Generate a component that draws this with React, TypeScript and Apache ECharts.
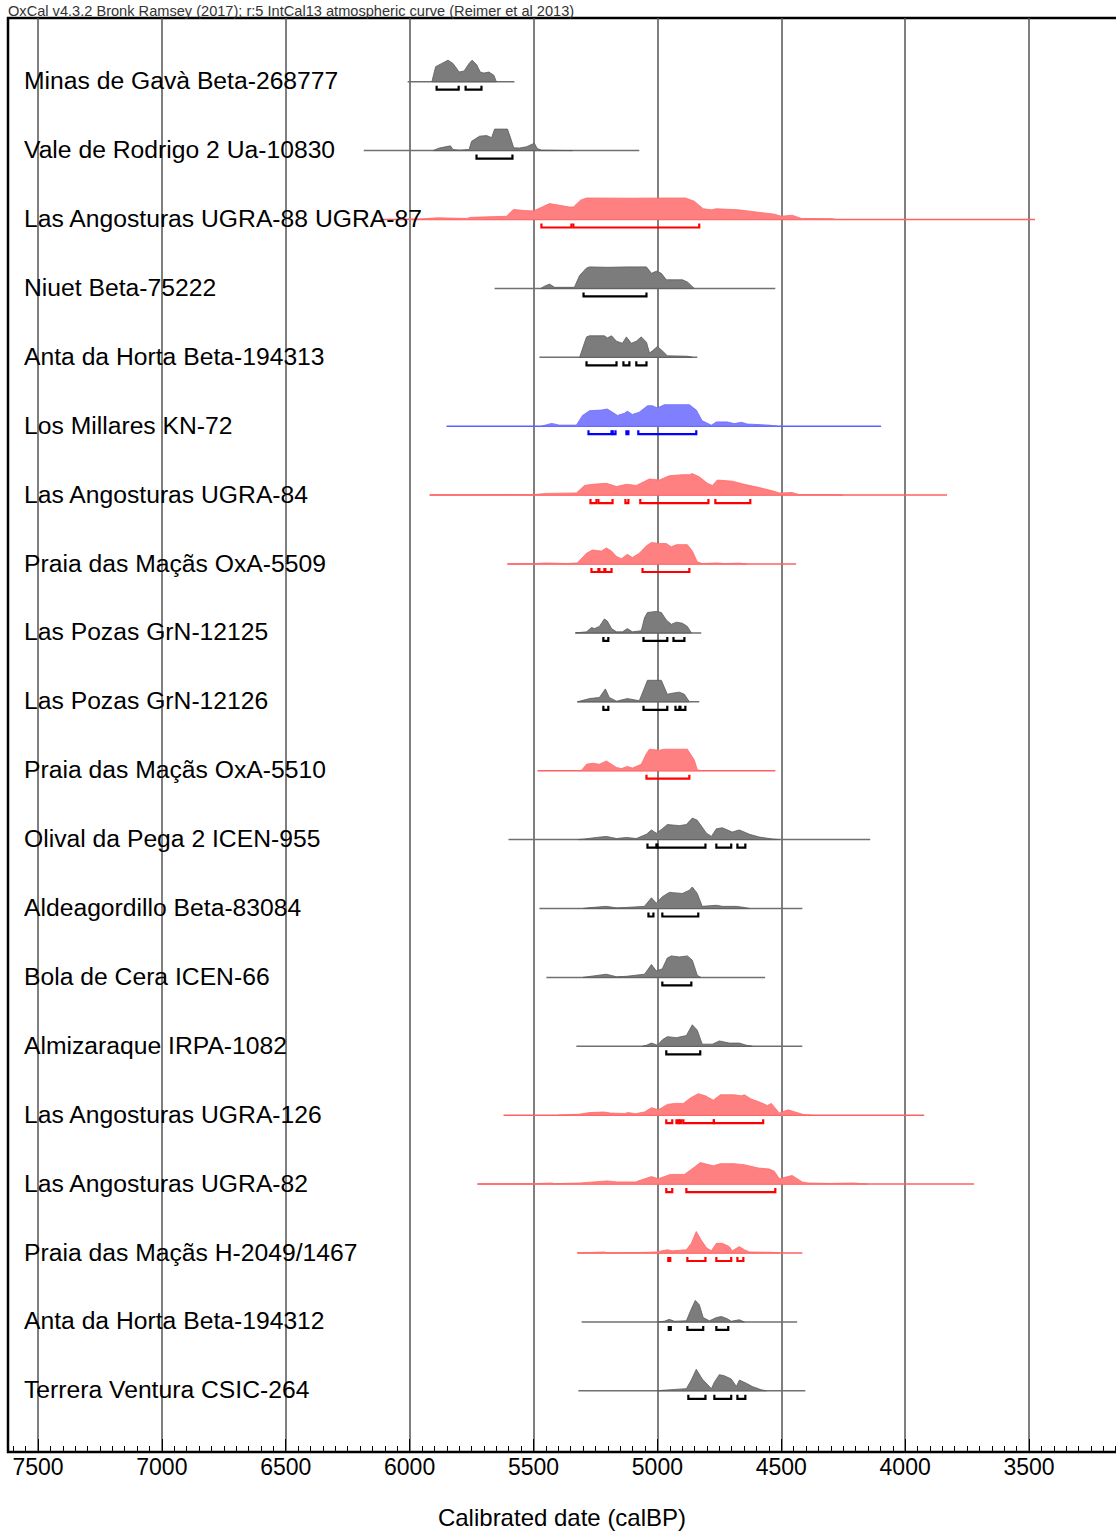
import React, { useEffect, useRef } from 'react';
import * as echarts from 'echarts';

const FONT = '"Liberation Sans", Arial, Helvetica, sans-serif';

const TITLE = 'OxCal v4.3.2 Bronk Ramsey (2017); r:5 IntCal13 atmospheric curve (Reimer et al 2013)';
const AXIS_NAME = 'Calibrated date (calBP)';
const X_LABELS = [7500, 7000, 6500, 6000, 5500, 5000, 4500, 4000, 3500];

const LABELS = [
  'Minas de Gavà Beta-268777',
  'Vale de Rodrigo 2 Ua-10830',
  'Las Angosturas UGRA-88 UGRA-87',
  'Niuet Beta-75222',
  'Anta da Horta Beta-194313',
  'Los Millares KN-72',
  'Las Angosturas UGRA-84',
  'Praia das Maçãs OxA-5509',
  'Las Pozas GrN-12125',
  'Las Pozas GrN-12126',
  'Praia das Maçãs OxA-5510',
  'Olival da Pega 2 ICEN-955',
  'Aldeagordillo Beta-83084',
  'Bola de Cera ICEN-66',
  'Almizaraque IRPA-1082',
  'Las Angosturas UGRA-126',
  'Las Angosturas UGRA-82',
  'Praia das Maçãs H-2049/1467',
  'Anta da Horta Beta-194312',
  'Terrera Ventura CSIC-264',
];

const KINDS = ['g', 'g', 'r', 'g', 'g', 'b', 'r', 'r', 'g', 'g', 'r', 'g', 'g', 'g', 'g', 'r', 'r', 'r', 'g', 'g'];

// extent of the thin line of each likelihood (calBP)
const LINE_RANGES = [
  [6008, 5577], [6185, 5073], [6120, 3476], [5657, 4524], [5476, 4839],
  [5851, 4097], [5919, 3831], [5605, 4440], [5331, 4823], [5323, 4831],
  [5484, 4524], [5601, 4141], [5476, 4415], [5448, 4565], [5327, 4415],
  [5621, 3923], [5726, 3722], [5323, 4415], [5306, 4436], [5319, 4403],
];

// probability curves: [calBP, relative height]
const DENSITIES = [
  [[5910,0],[5895,0.7],[5870,0.85],[5845,1.0],[5825,0.85],[5800,0.45],[5780,0.5],[5760,0.85],[5748,1.0],[5730,0.8],[5715,0.45],[5700,0.4],[5680,0.45],[5660,0.3],[5650,0]],
  [[5905,0],[5880,0.12],[5845,0.2],[5835,0.22],[5825,0.05],[5800,0.02],[5760,0.05],[5750,0.43],[5718,0.67],[5689,0.7],[5669,0.6],[5657,1.0],[5605,1.0],[5590,0.5],[5580,0.13],[5556,0.12],[5528,0.18],[5505,0.3],[5496,0.33],[5485,0.1],[5468,0.02],[5343,0]],
  [[6080,0],[5950,0.03],[5887,0.08],[5770,0.05],[5754,0.1],[5609,0.15],[5581,0.47],[5540,0.42],[5500,0.4],[5435,0.74],[5355,0.58],[5339,0.58],[5310,0.9],[5286,1.0],[5100,0.99],[4960,1.0],[4887,1.0],[4851,0.85],[4815,0.5],[4782,0.45],[4762,0.5],[4673,0.45],[4601,0.35],[4528,0.25],[4500,0.15],[4456,0.2],[4419,0.05],[4294,0.04],[4278,0]],
  [[5470,0],[5456,0.1],[5435,0.2],[5415,0.05],[5335,0.05],[5314,0.6],[5286,0.95],[5274,1.0],[5200,0.98],[5120,1.0],[5044,1.0],[5024,0.7],[5004,0.8],[4984,0.7],[4964,0.4],[4940,0.4],[4899,0.4],[4879,0.3],[4851,0]],
  [[5314,0],[5286,0.95],[5274,1.0],[5214,1.0],[5202,0.9],[5185,1.0],[5165,0.75],[5141,0.65],[5125,0.95],[5105,0.65],[5085,0.75],[5065,0.95],[5044,0.7],[5032,0.2],[5020,0.3],[5000,0.5],[4980,0.3],[4960,0.07],[4879,0.05],[4859,0]],
  [[5468,0],[5427,0.13],[5395,0.05],[5327,0.05],[5302,0.5],[5274,0.72],[5226,0.75],[5202,0.8],[5161,0.5],[5133,0.6],[5121,0.7],[5101,0.55],[5073,0.65],[5040,0.95],[5020,0.95],[5000,0.85],[4972,1.0],[4871,1.0],[4843,0.75],[4819,0.25],[4782,0.05],[4762,0.2],[4718,0.2],[4690,0.12],[4661,0.18],[4637,0.1],[4548,0.05],[4516,0]],
  [[5919,0],[5700,0.02],[5585,0.03],[5504,0.02],[5448,0.08],[5327,0.1],[5294,0.45],[5262,0.5],[5206,0.55],[5165,0.4],[5125,0.5],[5085,0.45],[5032,0.75],[4992,0.7],[4952,0.9],[4899,0.95],[4871,0.95],[4859,1.0],[4831,0.85],[4798,0.55],[4778,0.45],[4758,0.7],[4698,0.65],[4649,0.5],[4589,0.35],[4536,0.2],[4508,0.1],[4456,0.12],[4427,0.02],[4294,0.02],[4250,0]],
  [[5605,0],[5496,0.02],[5448,0.05],[5367,0.02],[5323,0.05],[5286,0.5],[5262,0.65],[5226,0.6],[5206,0.75],[5185,0.6],[5165,0.35],[5145,0.25],[5121,0.45],[5101,0.3],[5073,0.5],[5044,0.85],[5024,1.0],[4992,0.95],[4964,0.95],[4944,0.8],[4923,0.9],[4879,0.9],[4859,0.6],[4839,0.1],[4819,0.02],[4758,0.05],[4730,0.02],[4669,0.04],[4641,0]],
  [[5331,0],[5286,0.05],[5266,0.25],[5254,0.2],[5234,0.3],[5214,0.65],[5202,0.55],[5185,0.2],[5165,0.05],[5141,0.05],[5121,0.2],[5101,0.05],[5065,0.1],[5052,0.7],[5040,0.95],[5004,1.0],[4984,0.95],[4964,0.6],[4944,0.4],[4923,0.5],[4899,0.45],[4879,0.3],[4863,0]],
  [[5323,0],[5274,0.15],[5234,0.2],[5210,0.6],[5194,0.2],[5165,0.03],[5121,0.15],[5073,0.05],[5052,0.65],[5040,1.0],[4984,1.0],[4960,0.35],[4940,0.4],[4911,0.45],[4891,0.35],[4871,0]],
  [[5320,0],[5306,0.02],[5286,0.3],[5262,0.35],[5234,0.3],[5206,0.45],[5185,0.3],[5165,0.15],[5145,0.1],[5121,0.2],[5101,0.12],[5065,0.3],[5044,0.8],[5032,1.0],[4992,0.95],[4972,1.0],[4879,1.0],[4851,0.5],[4839,0.05],[4825,0]],
  [[5320,0],[5294,0.03],[5246,0.1],[5206,0.15],[5165,0.05],[5125,0.1],[5085,0.05],[5044,0.25],[5024,0.45],[5004,0.3],[4980,0.5],[4960,0.7],[4911,0.65],[4883,0.7],[4859,1.0],[4839,0.9],[4802,0.3],[4782,0.15],[4762,0.5],[4738,0.55],[4698,0.35],[4669,0.45],[4629,0.25],[4589,0.12],[4536,0.03],[4508,0]],
  [[5300,0],[5282,0.03],[5206,0.1],[5165,0.03],[5125,0.05],[5052,0.1],[5024,0.5],[5004,0.25],[4980,0.55],[4952,0.75],[4899,0.7],[4871,0.85],[4859,1.0],[4839,0.7],[4819,0.1],[4762,0.15],[4738,0.1],[4681,0.1],[4649,0.05],[4629,0]],
  [[5300,0],[5282,0.03],[5206,0.15],[5165,0.03],[5125,0.05],[5052,0.15],[5024,0.6],[5004,0.3],[4980,0.4],[4960,0.9],[4944,1.0],[4911,0.95],[4879,1.0],[4859,0.8],[4839,0.1],[4825,0]],
  [[5060,0],[5044,0.05],[5024,0.15],[5000,0.05],[4980,0.3],[4960,0.45],[4923,0.4],[4883,0.5],[4859,1.0],[4839,0.75],[4819,0.1],[4778,0.1],[4750,0.25],[4710,0.15],[4669,0.15],[4641,0.05],[4617,0]],
  [[5400,0],[5314,0.05],[5274,0.12],[5218,0.15],[5189,0.1],[5133,0.08],[5117,0.12],[5089,0.07],[5052,0.15],[5024,0.35],[4996,0.25],[4960,0.5],[4931,0.55],[4895,0.55],[4867,0.8],[4835,1.0],[4806,0.9],[4774,0.7],[4746,0.95],[4690,0.95],[4661,0.9],[4649,0.95],[4621,0.75],[4585,0.6],[4556,0.45],[4540,0.55],[4508,0.1],[4472,0.25],[4444,0.15],[4407,0.02],[4379,0]],
  [[5726,0],[5500,0.02],[5427,0.05],[5415,0.02],[5314,0.05],[5258,0.1],[5202,0.15],[5161,0.1],[5089,0.1],[5024,0.35],[4996,0.25],[4948,0.45],[4891,0.45],[4855,0.75],[4827,1.0],[4774,0.85],[4746,0.95],[4690,0.95],[4649,0.9],[4593,0.75],[4548,0.7],[4528,0.6],[4508,0.25],[4456,0.4],[4415,0.1],[4391,0.05],[4306,0.03],[4210,0.05],[4153,0]],
  [[5323,0],[5214,0.05],[5202,0],[5044,0.03],[5004,0.05],[4960,0.15],[4940,0.1],[4883,0.15],[4863,0.45],[4843,1.0],[4823,0.6],[4802,0.25],[4782,0.1],[4762,0.45],[4738,0.45],[4710,0.3],[4698,0.1],[4669,0.3],[4649,0.15],[4629,0.05],[4536,0.03],[4508,0]],
  [[5000,0],[4972,0.03],[4952,0.12],[4931,0.03],[4883,0.05],[4863,0.6],[4847,1.0],[4831,0.8],[4815,0.2],[4790,0.05],[4762,0.2],[4742,0.25],[4718,0.15],[4702,0.03],[4669,0.1],[4649,0]],
  [[5000,0],[4972,0.03],[4883,0.1],[4863,0.5],[4843,1.0],[4819,0.55],[4782,0.1],[4770,0.4],[4750,0.75],[4730,0.7],[4702,0.55],[4681,0.2],[4669,0.5],[4641,0.35],[4617,0.2],[4581,0.05],[4560,0]],
];

// highest posterior density ranges (calBP)
const HPD = [
  [[5891,5802],[5774,5710]],
  [[5730,5585]],
  [[5468,5347],[5339,4831]],
  [[5298,5044]],
  [[5286,5165],[5137,5113],[5085,5044]],
  [[5278,5185],[5180,5169],[5125,5117],[5077,4843]],
  [[5270,5246],[5238,5181],[5129,5117],[5069,4794],[4766,4625]],
  [[5266,5238],[5234,5214],[5210,5185],[5060,4871]],
  [[5218,5198],[5056,4960],[4935,4891]],
  [[5218,5198],[5056,4960],[4927,4911],[4907,4887]],
  [[5044,4871]],
  [[5040,5004],[5000,4806],[4762,4702],[4677,4645]],
  [[5036,5016],[4980,4835]],
  [[4980,4863]],
  [[4964,4827]],
  [[4964,4940],[4923,4915],[4911,4903],[4895,4772],[4772,4573]],
  [[4964,4940],[4883,4524]],
  [[4956,4948],[4879,4806],[4762,4702],[4677,4653]],
  [[4954,4946],[4879,4815],[4762,4714]],
  [[4875,4806],[4770,4702],[4677,4645]],
];

const COLORS: Record<string, any> = {
  g: { fill: '#7c7c7c', edge: '#5a5a5a', line: '#707070', hpd: '#000000' },
  r: { fill: '#ff8080', edge: '#ff6a6a', line: '#ff6060', hpd: '#ff0000' },
  b: { fill: '#8080ff', edge: '#6a6aff', line: '#6060ff', hpd: '#0000ff' },
};

const ROW_TOP = 63.7;
const ROW_STEP = 68.9;
const PEAK = 21.5;
const HPD_OFF = 8;
const X_MIN = 3000;
const X_MAX = 7621;

export default function App() {
  const ref = useRef<HTMLDivElement>(null);
  useEffect(() => {
    document.body.style.margin = '0';
    const chart = echarts.init(ref.current as HTMLDivElement, null, { renderer: 'svg' });
    const renderItem = (params: any, api: any) => {
      const i = api.value(2);
      const base = ROW_TOP + ROW_STEP * i;
      const c = COLORS[KINDS[i]];
      const children: any[] = [];
      const [ls, le] = LINE_RANGES[i];
      const p1 = api.coord([ls, base]);
      const p2 = api.coord([le, base]);
      children.push({
        type: 'line',
        shape: { x1: p1[0], y1: p1[1], x2: p2[0], y2: p2[1] },
        style: { stroke: c.line, lineWidth: 1.5 },
      });
      const d = DENSITIES[i];
      const pts = d.map(([yr, h]) => api.coord([yr, base - h * PEAK]));
      pts.unshift(api.coord([d[0][0], base]));
      pts.push(api.coord([d[d.length - 1][0], base]));
      children.push({
        type: 'polygon',
        shape: { points: pts },
        style: { fill: c.fill, stroke: c.edge, lineWidth: 0.8 },
      });
      HPD[i].forEach(([a, b]) => {
        const pa = api.coord([a, base + HPD_OFF]);
        const pb = api.coord([b, base + HPD_OFF]);
        children.push({
          type: 'polyline',
          shape: { points: [[pa[0], pa[1] - 4], [pa[0], pa[1]], [pb[0], pb[1]], [pb[0], pb[1] - 4]] },
          style: { stroke: c.hpd, lineWidth: 2.2, fill: 'none' },
        });
      });
      children.push({
        type: 'text',
        x: 24,
        y: p1[1] - 1,
        style: {
          text: LABELS[i],
          fill: '#000',
          font: '24.7px ' + FONT,
          align: 'left',
          textAlign: 'left',
          verticalAlign: 'middle',
          textVerticalAlign: 'middle',
        },
      });
      return { type: 'group', children };
    };

    chart.setOption({
      animation: false,
      backgroundColor: '#fff',
      grid: { left: 8, top: 18, width: (X_MAX - X_MIN) * 0.24776, height: 1434, show: true, borderColor: '#000', borderWidth: 2.5, backgroundColor: 'transparent' },
      xAxis: {
        type: 'value',
        inverse: true,
        min: X_MIN,
        max: X_MAX,
        interval: 500,
        axisLine: { show: true, onZero: false, lineStyle: { color: '#000', width: 2 } },
        axisTick: { show: true, inside: true, length: 13, lineStyle: { color: '#000', width: 1 } },
        minorTick: { show: true, splitNumber: 10, length: 6, lineStyle: { color: '#000', width: 1 } },
        axisLabel: {
          color: '#000', fontSize: 23, fontFamily: FONT, margin: 3,
          showMaxLabel: false,
          formatter: (v: number) => (X_LABELS.includes(v) ? String(v) : ''),
        },
        splitLine: { show: true, showMaxLine: false, lineStyle: { color: '#555', width: 1.5 } },
      },
      yAxis: { type: 'value', min: 0, max: 1434, inverse: true, show: false },
      graphic: [
        { type: 'text', x: 8, y: 11, style: { text: TITLE, fill: '#333', font: '14.6px ' + FONT, align: 'left', textAlign: 'left', verticalAlign: 'middle', textVerticalAlign: 'middle' } },
        { type: 'text', x: 562, y: 1517, style: { text: AXIS_NAME, fill: '#000', font: '24px ' + FONT, align: 'center', textAlign: 'center', verticalAlign: 'middle', textVerticalAlign: 'middle' } },
      ],
      series: [
        {
          type: 'custom',
          clip: false,
          renderItem,
          data: LABELS.map((_, i) => [LINE_RANGES[i][0], ROW_TOP + ROW_STEP * i, i]),
          encode: { x: 0, y: 1 },
          silent: true,
        },
      ],
    });
    return () => chart.dispose();
  }, []);
  return (
    <div style={{ width: 1116, height: 1535, overflow: 'hidden', position: 'relative', background: '#fff' }}>
      <div ref={ref} style={{ width: 1160, height: 1535 }} />
    </div>
  );
}
